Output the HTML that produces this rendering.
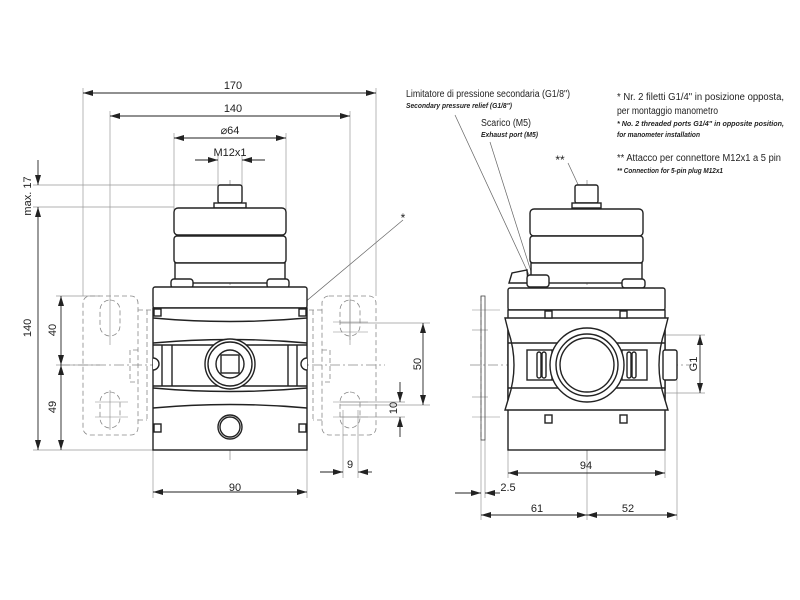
<!DOCTYPE html>
<html><head><meta charset="utf-8"><style>
html,body{margin:0;padding:0;background:#fff;}
svg{display:block;}
text{font-family:"Liberation Sans",sans-serif;fill:#222;}
.i{font-style:italic;font-weight:bold;}
</style></head><body>
<svg width="800" height="600" viewBox="0 0 800 600" xmlns="http://www.w3.org/2000/svg">
<defs>
<marker id="a" viewBox="0 0 10 6" refX="10" refY="3" markerWidth="10" markerHeight="6" orient="auto-start-reverse" markerUnits="userSpaceOnUse"><path d="M0,0 L10,3 L0,6 z" fill="#222"/></marker>
</defs>
<g stroke="#999" stroke-width="0.7" fill="none">
<line x1="83" y1="88" x2="83" y2="296"/>
<line x1="376" y1="88" x2="376" y2="296"/>
<line x1="110" y1="111" x2="110" y2="345"/>
<line x1="350" y1="111" x2="350" y2="345"/>
<line x1="174" y1="133" x2="174" y2="210"/>
<line x1="286" y1="133" x2="286" y2="210"/>
<line x1="218" y1="155" x2="218" y2="186"/>
<line x1="242" y1="155" x2="242" y2="186"/>
<line x1="33" y1="185" x2="218" y2="185"/>
<line x1="33" y1="207" x2="174" y2="207"/>
<line x1="33" y1="450" x2="153" y2="450"/>
<line x1="56" y1="296" x2="100" y2="296"/>
<line x1="56" y1="365" x2="100" y2="365"/>
<line x1="153" y1="450" x2="153" y2="498"/>
<line x1="307" y1="450" x2="307" y2="498"/>
<line x1="343" y1="410" x2="343" y2="478"/>
<line x1="358" y1="410" x2="358" y2="478"/>
<line x1="340" y1="323" x2="430" y2="323"/>
<line x1="340" y1="405" x2="430" y2="405"/>
<line x1="340" y1="402" x2="405" y2="402"/>
<line x1="340" y1="417" x2="405" y2="417"/>
<line x1="508" y1="450" x2="508" y2="478"/>
<line x1="665" y1="450" x2="665" y2="478"/>
<line x1="481" y1="440" x2="481" y2="520"/>
<line x1="485" y1="440" x2="485" y2="498"/>
<line x1="587" y1="450" x2="587" y2="520"/>
<line x1="677" y1="380" x2="677" y2="520"/>
<line x1="620" y1="335" x2="705" y2="335"/>
<line x1="620" y1="393" x2="705" y2="393"/>
<line x1="403" y1="220" x2="230" y2="365" stroke="#666"/>
<line x1="455" y1="115" x2="530" y2="277" stroke="#666"/>
<line x1="490" y1="142" x2="535" y2="284" stroke="#666"/>
<line x1="568" y1="163" x2="582" y2="193" stroke="#666"/>
</g>
<g stroke="#888" stroke-width="0.7" stroke-dasharray="10,3,2,3" fill="none">
<line x1="230" y1="180" x2="230" y2="460"/>
<line x1="60" y1="365" x2="385" y2="365"/>
<line x1="587" y1="180" x2="587" y2="460"/>
<line x1="470" y1="365" x2="690" y2="365"/>
<line x1="182" y1="278" x2="182" y2="312"/>
<line x1="278" y1="278" x2="278" y2="312"/>
<line x1="537" y1="275" x2="537" y2="312"/>
<line x1="629" y1="275" x2="629" y2="312"/>
</g>
<g stroke="#888" stroke-width="0.8" stroke-dasharray="5,3" fill="none">
<rect x="83" y="296" width="55" height="139" rx="7"/>
<rect x="322" y="296" width="54" height="139" rx="7"/>
<path d="M138,310 H153 M138,420 H147 M147,310 V420 M138,350 H130 V382 H138"/>
<path d="M322,310 H307 M322,420 H313 M313,310 V420 M322,350 H330 V382 H322"/>
<rect x="100" y="300" width="20" height="36" rx="10"/>
<rect x="100" y="392" width="20" height="36" rx="10"/>
<rect x="340" y="300" width="20" height="36" rx="10"/>
<rect x="340" y="392" width="20" height="36" rx="10"/>
<path d="M481,296 V440"/>
</g>
<g stroke="#888" stroke-width="0.6" fill="none">
<line x1="95" y1="402" x2="128" y2="402"/><line x1="95" y1="417" x2="128" y2="417"/>
<line x1="110" y1="390" x2="110" y2="430"/>
<line x1="333" y1="322" x2="368" y2="322"/><line x1="333" y1="332" x2="368" y2="332"/>
<line x1="333" y1="402" x2="368" y2="402"/><line x1="333" y1="417" x2="368" y2="417"/>
<line x1="350" y1="300" x2="350" y2="340"/>
<line x1="472" y1="310" x2="500" y2="310"/><line x1="472" y1="330" x2="488" y2="330"/>
<line x1="472" y1="397" x2="488" y2="397"/><line x1="472" y1="417" x2="500" y2="417"/>
</g>
<g stroke="#222" stroke-width="1.4" fill="#fff">
<rect x="218" y="185" width="24" height="18" rx="2"/>
<rect x="214" y="203" width="32" height="5"/>
<rect x="174" y="208" width="112" height="27" rx="4"/>
<rect x="174" y="236" width="112" height="27" rx="3"/>
<rect x="175" y="263" width="110" height="20"/>
<rect x="171" y="279" width="22" height="9" rx="3"/>
<rect x="267" y="279" width="22" height="9" rx="3"/>
<rect x="153" y="287" width="154" height="21" rx="2"/>
<rect x="153" y="308" width="154" height="142"/>
<path d="M153,318 Q230,325 307,318" fill="none"/>
<path d="M153,343 Q230,336 307,343" fill="none"/>
<path d="M153,388 Q230,395 307,388" fill="none"/>
<path d="M153,408 Q230,401 307,408" fill="none"/>
<line x1="153" y1="345" x2="307" y2="345"/>
<line x1="153" y1="386" x2="307" y2="386"/>
<line x1="162" y1="345" x2="162" y2="386"/><line x1="172" y1="345" x2="172" y2="386"/>
<line x1="288" y1="345" x2="288" y2="386"/><line x1="297" y1="345" x2="297" y2="386"/>
<rect x="154" y="309" width="7" height="7"/><rect x="299" y="309" width="7" height="7"/>
<rect x="154" y="424" width="7" height="8"/><rect x="299" y="424" width="7" height="8"/>
<circle cx="230" cy="364" r="25"/>
<circle cx="230" cy="364" r="22"/>
<circle cx="230" cy="364" r="14"/>
<rect x="221" y="355" width="18" height="18"/>
<path d="M153,358 A6,6 0 0 1 153,370" />
<path d="M307,358 A6,6 0 0 0 307,370" />
<circle cx="230" cy="427" r="12"/>
<circle cx="230" cy="427" r="10"/>
</g>
<g stroke="#222" stroke-width="1.4" fill="#fff">
<rect x="575" y="185" width="23" height="18" rx="2"/>
<rect x="572" y="203" width="29" height="5"/>
<rect x="530" y="209" width="113" height="27" rx="4"/>
<rect x="530" y="236" width="113" height="27" rx="3"/>
<rect x="531" y="263" width="111" height="20"/>
<path d="M509,283 L512,273 L527,270 L528,283 Z"/>
<rect x="527" y="275" width="22" height="12" rx="3"/>
<rect x="622" y="279" width="23" height="9" rx="3"/>
<rect x="508" y="288" width="157" height="22" rx="2"/>
<rect x="508" y="310" width="157" height="140"/>
<path d="M505,318 H668 L665,330 V400 L668,410 H505 L508,400 V330 Z"/>
<line x1="508" y1="343" x2="665" y2="343"/>
<line x1="508" y1="388" x2="665" y2="388"/>
<path d="M508,330 Q520,365 508,400" fill="none"/>
<path d="M665,330 Q653,365 665,400" fill="none"/>
<rect x="527" y="350" width="25" height="30"/>
<rect x="622" y="350" width="25" height="30"/>
<rect x="537" y="352" width="4" height="26" rx="2"/><rect x="542" y="352" width="4" height="26" rx="2"/>
<rect x="627" y="352" width="4" height="26" rx="2"/><rect x="632" y="352" width="4" height="26" rx="2"/>
<circle cx="587" cy="365" r="37"/>
<circle cx="587" cy="365" r="31"/>
<circle cx="587" cy="365" r="27"/>
<rect x="663" y="350" width="14" height="30" rx="2"/>
<rect x="545" y="311" width="7" height="7"/><rect x="620" y="311" width="7" height="7"/>
<rect x="545" y="415" width="7" height="8"/><rect x="620" y="415" width="7" height="8"/>
</g>
<g stroke="#444" stroke-width="0.8" fill="none">
<rect x="481" y="296" width="4" height="144"/>
</g>
<g stroke="#222" stroke-width="0.9" fill="none">
<line x1="83" y1="93" x2="376" y2="93" marker-start="url(#a)" marker-end="url(#a)"/>
<line x1="110" y1="116" x2="350" y2="116" marker-start="url(#a)" marker-end="url(#a)"/>
<line x1="174" y1="138" x2="286" y2="138" marker-start="url(#a)" marker-end="url(#a)"/>
<line x1="195" y1="160" x2="218" y2="160" marker-end="url(#a)"/>
<line x1="265" y1="160" x2="242" y2="160" marker-end="url(#a)"/>
<line x1="38" y1="160" x2="38" y2="185" marker-end="url(#a)"/>
<line x1="38" y1="207" x2="38" y2="450" marker-start="url(#a)" marker-end="url(#a)"/>
<line x1="61" y1="296" x2="61" y2="365" marker-start="url(#a)" marker-end="url(#a)"/>
<line x1="61" y1="365" x2="61" y2="450" marker-start="url(#a)" marker-end="url(#a)"/>
<line x1="423" y1="323" x2="423" y2="405" marker-start="url(#a)" marker-end="url(#a)"/>
<line x1="400" y1="382" x2="400" y2="402" marker-end="url(#a)"/>
<line x1="400" y1="437" x2="400" y2="417" marker-end="url(#a)"/>
<line x1="320" y1="472" x2="343" y2="472" marker-end="url(#a)"/>
<line x1="372" y1="472" x2="358" y2="472" marker-end="url(#a)"/>
<line x1="153" y1="492" x2="307" y2="492" marker-start="url(#a)" marker-end="url(#a)"/>
<line x1="508" y1="473" x2="665" y2="473" marker-start="url(#a)" marker-end="url(#a)"/>
<line x1="455" y1="493" x2="481" y2="493" marker-end="url(#a)"/>
<line x1="500" y1="493" x2="485" y2="493" marker-end="url(#a)"/>
<line x1="481" y1="515" x2="587" y2="515" marker-start="url(#a)" marker-end="url(#a)"/>
<line x1="587" y1="515" x2="677" y2="515" marker-start="url(#a)" marker-end="url(#a)"/>
<line x1="700" y1="335" x2="700" y2="393" marker-start="url(#a)" marker-end="url(#a)"/>
</g>
<g font-size="11">
<text x="233" y="89" text-anchor="middle">170</text>
<text x="233" y="112" text-anchor="middle">140</text>
<text x="230" y="134" text-anchor="middle">⌀64</text>
<text x="230" y="156" text-anchor="middle">M12x1</text>
<text transform="translate(31,196) rotate(-90)" text-anchor="middle">max. 17</text>
<text transform="translate(31,328) rotate(-90)" text-anchor="middle">140</text>
<text transform="translate(56,330) rotate(-90)" text-anchor="middle">40</text>
<text transform="translate(56,407) rotate(-90)" text-anchor="middle">49</text>
<text transform="translate(421,364) rotate(-90)" text-anchor="middle">50</text>
<text transform="translate(397,408) rotate(-90)" text-anchor="middle">10</text>
<text x="350" y="468" text-anchor="middle">9</text>
<text x="235" y="491" text-anchor="middle">90</text>
<text x="586" y="469" text-anchor="middle">94</text>
<text x="508" y="491" text-anchor="middle">2.5</text>
<text x="537" y="512" text-anchor="middle">61</text>
<text x="628" y="512" text-anchor="middle">52</text>
<text transform="translate(697,364) rotate(-90)" text-anchor="middle">G1</text>
<text x="403" y="222" text-anchor="middle" font-size="12">*</text>
<text x="560" y="164" text-anchor="middle" font-size="12">**</text>
</g>
<g>
<text x="406" y="97" font-size="10" textLength="164" lengthAdjust="spacingAndGlyphs">Limitatore di pressione secondaria (G1/8")</text>
<text x="406" y="108" font-size="7" class="i" textLength="106" lengthAdjust="spacingAndGlyphs">Secondary pressure relief (G1/8")</text>
<text x="481" y="126" font-size="10" textLength="50" lengthAdjust="spacingAndGlyphs">Scarico (M5)</text>
<text x="481" y="137" font-size="7" class="i" textLength="57" lengthAdjust="spacingAndGlyphs">Exhaust port (M5)</text>
<text x="617" y="100" font-size="10" textLength="167" lengthAdjust="spacingAndGlyphs">* Nr. 2 filetti G1/4" in posizione opposta,</text>
<text x="617" y="114" font-size="10" textLength="101" lengthAdjust="spacingAndGlyphs">per montaggio manometro</text>
<text x="617" y="126" font-size="7" class="i" textLength="167" lengthAdjust="spacingAndGlyphs">* No. 2 threaded ports G1/4" in opposite position,</text>
<text x="617" y="137" font-size="7" class="i" textLength="83" lengthAdjust="spacingAndGlyphs">for manometer installation</text>
<text x="617" y="161" font-size="10" textLength="164" lengthAdjust="spacingAndGlyphs">** Attacco per connettore M12x1 a 5 pin</text>
<text x="617" y="173" font-size="7" class="i" textLength="106" lengthAdjust="spacingAndGlyphs">** Connection for 5-pin plug M12x1</text>
</g>
</svg>
</body></html>
